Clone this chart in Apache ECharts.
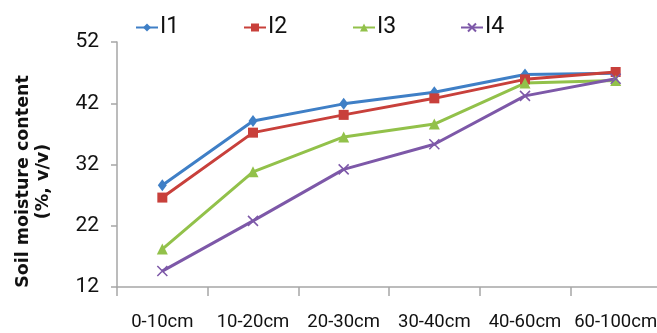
<!DOCTYPE html>
<html>
<head>
<meta charset="utf-8">
<script src="https://cdn.jsdelivr.net/npm/echarts@6/dist/echarts.min.js"></script>
<style>
html,body{margin:0;padding:0;background:#fff;}
#c{width:657px;height:333px;}
</style>
</head>
<body>
<div id="c"></div>
<script>
const categories = ['0-10cm','10-20cm','20-30cm','30-40cm','40-60cm','60-100cm'];
const seriesNames = ['I1','I2','I3','I4'];
const I1 = [28.6, 39.1, 41.9, 43.8, 46.7, 46.9];
const I2 = [26.6, 37.2, 40.1, 42.8, 45.9, 47.1];
const I3 = [18.2, 30.8, 36.5, 38.6, 45.3, 45.7];
const I4 = [14.6, 22.8, 31.2, 35.3, 43.2, 46.0];
const yTicks = [12, 22, 32, 42, 52];

const colors = ['#3F7FC6','#C8403B','#92C14A','#7D58A8'];
const symbols = ['diamond','rect','triangle','path://M0,0L10,10M10,0L0,10'];
const sizes = [[9,12],10,11,10];
const dataSets = [I1,I2,I3,I4];
const FONT = 'Roboto,sans-serif';

const chart = echarts.init(document.getElementById('c'));
const legendLefts = [130,238,347,455];
chart.setOption({
  animation:false,
  color: colors,
  legend: seriesNames.map((n,i)=>({
    data:[n], left:legendLefts[i], top:11,
    itemWidth:22, itemHeight:10, itemGap:0,
    textStyle:{fontFamily:FONT,fontSize:23,color:'#111',padding:[0,0,0,-3]}
  })),
  grid:{left:117, right:-4, top:42, bottom:46, containLabel:false, outerBoundsMode:'none'},
  xAxis:{
    type:'category', data:categories, boundaryGap:true,
    axisLine:{lineStyle:{color:'#a6a6a6',width:1.5}},
    axisTick:{show:true,length:9,lineStyle:{color:'#a6a6a6',width:1.5}},
    axisLabel:{fontFamily:FONT,fontSize:18.5,color:'#111',margin:26,interval:0}
  },
  yAxis:{
    type:'value', min:12, max:52, interval:10,
    axisLine:{show:true,lineStyle:{color:'#a6a6a6',width:1.5}},
    axisTick:{show:true,length:6,inside:false,lineStyle:{color:'#a6a6a6',width:1.5}},
    splitLine:{show:false},
    axisLabel:{fontFamily:FONT,fontSize:21,color:'#111',margin:18,
      formatter:v=>yTicks.includes(v)?String(v):''},
    name:'Soil moisture content\n(%, v/v)',
    nameLocation:'middle', nameRotate:90, nameGap:64,
    nameTextStyle:{fontFamily:'"DejaVu Sans",sans-serif',fontWeight:'bold',fontSize:17.5,color:'#111',lineHeight:20,padding:[0,34,0,0]}
  },
  series: dataSets.map((d,i)=>({
    name:seriesNames[i], type:'line', data:d,
    symbol:symbols[i], symbolSize:sizes[i],
    lineStyle:{width:3,color:colors[i]},
    itemStyle: i===3 ? {color:colors[i],borderColor:colors[i],borderWidth:1.5} : {color:colors[i]}
  }))
});
</script>
</body>
</html>
